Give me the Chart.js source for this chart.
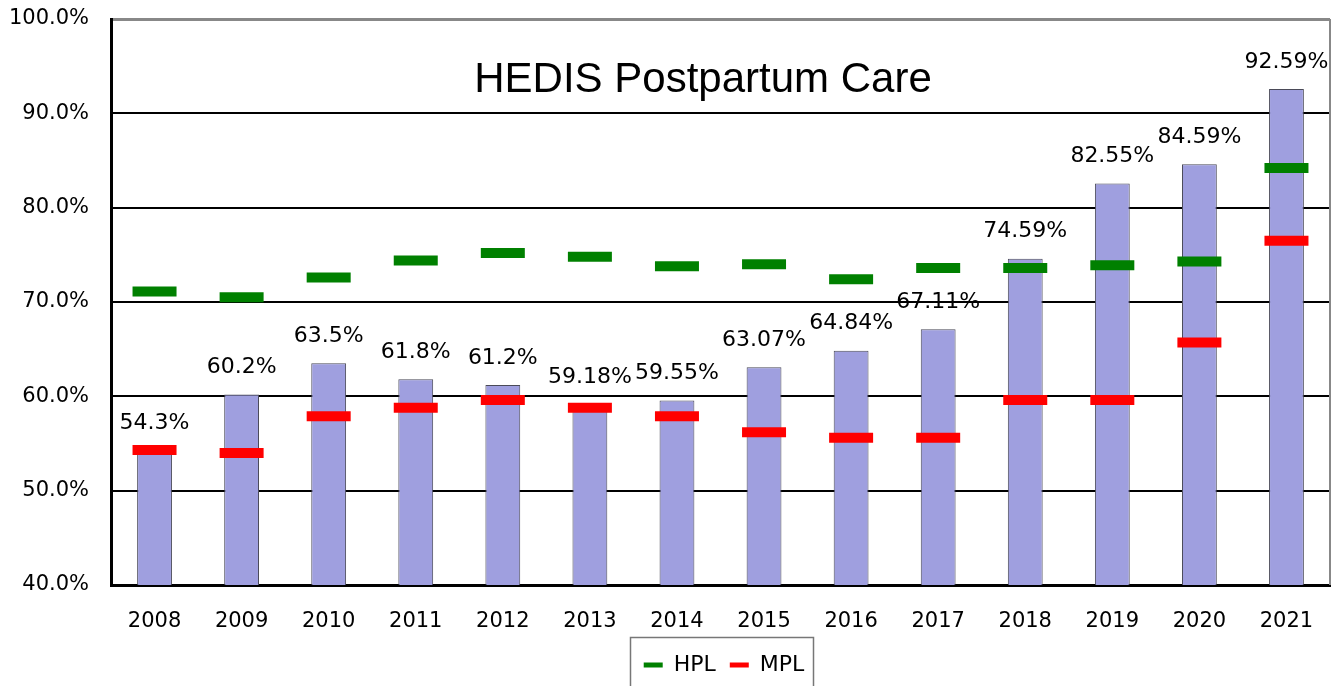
<!DOCTYPE html>
<html>
<head>
<meta charset="utf-8">
<script src="https://cdn.jsdelivr.net/npm/chart.js@4/dist/chart.umd.min.js"></script>
<style>
html,body{margin:0;padding:0;background:#fff}
#wrap{width:1335px;height:686px}
</style>
</head>
<body>
<div id="wrap"><canvas id="chart"></canvas></div>
<script>
/* ====================================
   DATA
==================================== */

const years=["2008","2009","2010","2011","2012","2013","2014","2015","2016","2017","2018","2019","2020","2021"]

// Plan rate (bars)
const rates=[54.3,60.2,63.5,61.8,61.2,59.18,59.55,63.07,64.84,67.11,74.59,82.55,84.59,92.59]

// Labels printed above bars
const rateLabels=["54.3%","60.2%","63.5%","61.8%","61.2%","59.18%","59.55%","63.07%","64.84%","67.11%","74.59%","82.55%","84.59%","92.59%"]

// High performance level
const hpl=[71.1,70.5,72.6,74.4,75.2,74.8,73.8,74.0,72.4,73.6,73.6,73.9,74.3,84.2]

// Minimum performance level
const mpl=[54.3,54.0,57.9,58.8,59.6,58.8,57.9,56.2,55.6,55.6,59.6,59.6,65.7,76.5]

const font="'DejaVu Sans', sans-serif"


/* ====================================
   PLUGINS
==================================== */

// move legend under the box
const legendShift={
id:"legendShift",
afterLayout(chart){
const lg=chart.legend
lg.left+=59
lg.right+=59
}
}

// title inside plot, bar labels, right border, legend box
const extras={
id:"extras",
afterDatasetsDraw(chart){
const ctx=chart.ctx
const area=chart.chartArea

ctx.save()

// right border
ctx.strokeStyle="#888"
ctx.lineWidth=2
ctx.beginPath()
ctx.moveTo(area.right,area.top)
ctx.lineTo(area.right,area.bottom)
ctx.stroke()

// title
ctx.fillStyle="#000"
ctx.font="42px 'Liberation Sans', Arial, sans-serif"
ctx.textAlign="center"
ctx.textBaseline="middle"
ctx.fillText("HEDIS Postpartum Care",703,80)

// bar labels
ctx.font="22px "+font
const meta=chart.getDatasetMeta(0)
meta.data.forEach((bar,i)=>{
ctx.fillText(rateLabels[i],bar.x,bar.y-27)
})

// legend box
ctx.strokeStyle="#777"
ctx.lineWidth=1.5
ctx.strokeRect(630.5,637.5,183,60)

ctx.restore()
}
}


/* ====================================
   DRAW CHART
==================================== */

new Chart(document.getElementById("chart"),{

data:{
labels:years,
datasets:[
{
type:"bar",
label:"Rate",
data:rates,
backgroundColor:"#9f9fdf",
borderColor:"#4a4a58",
borderWidth:1,
barPercentage:0.4,
categoryPercentage:1,
order:3
},
{
type:"line",
label:"HPL",
data:hpl,
showLine:false,
pointStyle:"line",
pointRadius:22,
pointHoverRadius:22,
pointBorderWidth:10,
borderWidth:5,
borderColor:"#008000",
backgroundColor:"#008000",
order:1
},
{
type:"line",
label:"MPL",
data:mpl,
showLine:false,
pointStyle:"line",
pointRadius:22,
pointHoverRadius:22,
pointBorderWidth:10,
borderWidth:5,
borderColor:"#ff0000",
backgroundColor:"#ff0000",
order:1
}
]
},

options:{
responsive:true,
maintainAspectRatio:false,
animation:false,
layout:{autoPadding:false,padding:{top:19,right:5,left:0,bottom:0}},

plugins:{
tooltip:{enabled:false},
legend:{
position:"bottom",
labels:{
filter:item=>item.text!=="Rate",
generateLabels:chart=>{
const items=Chart.defaults.plugins.legend.labels.generateLabels(chart)
items.forEach(it=>{it.lineWidth=5})
return items
},
usePointStyle:true,
pointStyleWidth:19,
color:"#000",
font:{family:font,size:22},
padding:14,
boxHeight:6
}
}
},

scales:{
x:{
grid:{display:false},
border:{color:"#000",width:3},
ticks:{color:"#000",font:{family:font,size:21},padding:16,maxRotation:0},
afterFit:s=>{s.height=55;s.paddingLeft=0;s.paddingRight=0}
},
y:{
min:40,
max:100,
ticks:{
stepSize:10,
color:"#000",
font:{family:font,size:21},
padding:22,
callback:v=>v.toFixed(1)+"%"
},
grid:{
color:c=>c.tick.value===100?"#888":"#000",
lineWidth:c=>c.tick.value===100?3:2,
drawTicks:false
},
border:{color:"#000",width:3},
afterFit:s=>{s.width=111;s.paddingTop=0;s.paddingBottom=0}
}
}
},

plugins:[legendShift,extras]

})
</script>
</body>
</html>
